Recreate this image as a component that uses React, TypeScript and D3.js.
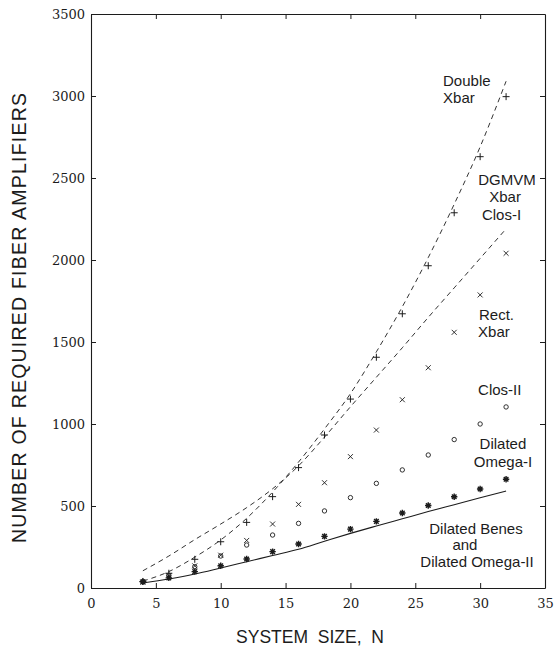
import React, { useEffect, useRef } from "react";
import * as d3 from "d3";

// system sizes N (even values 4..32)
const sizes = [4, 6, 8, 10, 12, 14, 16, 18, 20, 22, 24, 26, 28, 30, 32];

// dashed curves
const doubleXbar = [42, 100, 188, 293, 425, 585, 768, 970, 1185, 1440, 1715, 2015, 2340, 2690, 3090];
const closI = [105, 195, 295, 390, 490, 605, 745, 920, 1105, 1285, 1465, 1650, 1830, 2010, 2190];
// solid curve
const dilatedBenes = [30, 55, 85, 122, 160, 198, 236, 285, 333, 378, 422, 466, 508, 550, 591];

// point series
const dgmvmXbar = [40, 90, 175, 282, 400, 557, 734, 933, 1152, 1407, 1672, 1965, 2288, 2630, 2996];
const rectXbar = [35, 75, 135, 200, 290, 390, 510, 642, 801, 963, 1148, 1343, 1559, 1787, 2041];
const closII = [40, 78, 130, 195, 262, 323, 394, 470, 551, 638, 720, 811, 905, 1000, 1104];
const dilatedOmegaI = [38, 62, 100, 136, 177, 222, 268, 315, 359, 406, 457, 503, 556, 604, 663];

const xTicks = [0, 5, 10, 15, 20, 25, 30, 35];
const yTicks = [0, 500, 1000, 1500, 2000, 2500, 3000, 3500];

// curve labels: text, N, value, anchor
const labels: [string, number, number, string][] = [
  ["Double", 27.14, 3061, "start"],
  ["Xbar", 27.14, 2957, "start"],
  ["DGMVM", 32.07, 2455, "middle"],
  ["Xbar", 31.92, 2355, "middle"],
  ["Clos-I", 30.14, 2244, "start"],
  ["Rect.", 29.91, 1634, "start"],
  ["Xbar", 29.84, 1530, "start"],
  ["Clos-II", 29.84, 1177, "start"],
  ["Dilated", 31.76, 845, "middle"],
  ["Omega-I", 31.76, 738, "middle"],
  ["Dilated Benes", 29.68, 327, "middle"],
  ["and", 28.83, 229, "middle"],
  ["Dilated Omega-II", 29.76, 128, "middle"],
];

const W = 556;
const H = 652;
const INK = "#1c1c1c";
const SANS = "'Liberation Sans', Arial, Helvetica, sans-serif";
const SERIF = "'DejaVu Serif', 'Liberation Serif', serif";

const FiberChart = () => {
  const ref = useRef<SVGSVGElement>(null);

  useEffect(() => {
    const svg = d3.select(ref.current);
    svg.selectAll("*").remove();

    const x = d3.scaleLinear().domain([0, 35]).range([91, 545]);
    const y = d3.scaleLinear().domain([0, 3500]).range([588, 14]);

    // axes, ticks pointing inward
    const styleAxis = (g: any) => {
      g.selectAll("path").attr("stroke", INK).attr("stroke-width", 1.1);
      g.selectAll("line").attr("stroke", INK).attr("stroke-width", 1);
      g.selectAll("text")
        .attr("fill", INK)
        .style("font-family", SERIF)
        .style("font-size", "13px");
    };
    const fmt = d3.format("d");

    svg.append("g")
      .attr("transform", `translate(0,${y(0)})`)
      .call(d3.axisBottom(x).tickValues(xTicks).tickFormat(fmt).tickSizeInner(-5).tickSizeOuter(0).tickPadding(11))
      .call(styleAxis);

    svg.append("g")
      .attr("transform", `translate(0,${y(3500)})`)
      .call(d3.axisTop(x).tickValues(xTicks.slice(1, -1)).tickSizeInner(-5).tickSizeOuter(0).tickFormat(() => ""))
      .call(styleAxis);

    svg.append("g")
      .attr("transform", `translate(${x(0)},0)`)
      .call(d3.axisLeft(y).tickValues(yTicks).tickFormat(fmt).tickSizeInner(-5).tickSizeOuter(0).tickPadding(6))
      .call(styleAxis);

    svg.append("g")
      .attr("transform", `translate(${x(35)},0)`)
      .call(d3.axisRight(y).tickValues(yTicks.slice(1, -1)).tickSizeInner(-5).tickSizeOuter(0).tickFormat(() => ""))
      .call(styleAxis);

    // curves
    const line = d3.line<number>()
      .x((_, i) => x(sizes[i]))
      .y(d => y(d))
      .curve(d3.curveMonotoneX);

    const curves: [number[], string][] = [
      [doubleXbar, "5,4"],
      [closI, "5,4"],
      [dilatedBenes, ""],
    ];
    curves.forEach(([vals, dash]) => {
      svg.append("path")
        .attr("d", line(vals))
        .attr("fill", "none")
        .attr("stroke", INK)
        .attr("stroke-width", dash ? 0.9 : 1.1)
        .attr("stroke-dasharray", dash || null);
    });

    // markers
    const plus = "M-3.5,0H3.5M0,-3.5V3.5";
    const cross = "M-2.5,-2.5L2.5,2.5M-2.5,2.5L2.5,-2.5";
    const star = "M-3.2,0H3.2M0,-3.2V3.2M-2.3,-2.3L2.3,2.3M-2.3,2.3L2.3,-2.3";

    const markerSeries: [number[], string, number][] = [
      [dgmvmXbar, plus, 1],
      [rectXbar, cross, 0.9],
      [dilatedOmegaI, star, 1.4],
    ];
    markerSeries.forEach(([vals, shape, sw]) => {
      svg.append("g")
        .selectAll("path")
        .data(vals)
        .enter()
        .append("path")
        .attr("transform", (d, i) => `translate(${x(sizes[i])},${y(d)})`)
        .attr("d", shape)
        .attr("fill", "none")
        .attr("stroke", INK)
        .attr("stroke-width", sw);
    });

    svg.append("g")
      .selectAll("circle")
      .data(closII)
      .enter()
      .append("circle")
      .attr("cx", (_, i) => x(sizes[i]))
      .attr("cy", d => y(d))
      .attr("r", 2.2)
      .attr("fill", "none")
      .attr("stroke", INK)
      .attr("stroke-width", 0.9);

    // curve labels
    svg.append("g")
      .selectAll("text")
      .data(labels)
      .enter()
      .append("text")
      .attr("x", d => x(d[1]))
      .attr("y", d => y(d[2]))
      .attr("text-anchor", d => d[3])
      .style("font-family", SANS)
      .style("font-size", "15px")
      .attr("fill", INK)
      .text(d => d[0]);

    // axis titles
    svg.append("text")
      .attr("x", 310)
      .attr("y", 643)
      .attr("text-anchor", "middle")
      .style("font-family", SANS)
      .style("font-size", "17.5px")
      .attr("fill", INK)
      .attr("xml:space", "preserve")
      .text("SYSTEM  SIZE,  N");

    svg.append("text")
      .attr("transform", "translate(26,318) rotate(-90)")
      .attr("text-anchor", "middle")
      .style("font-family", SANS)
      .style("font-size", "19.5px")
      .attr("fill", INK)
      .attr("textLength", 450)
      .attr("lengthAdjust", "spacing")
      .text("NUMBER OF REQUIRED FIBER AMPLIFIERS");
  }, []);

  return (
    <svg
      ref={ref}
      width={W}
      height={H}
      style={{ position: "absolute", left: 0, top: 0, background: "#fff" }}
    />
  );
};

export default function App() {
  return <FiberChart />;
}
